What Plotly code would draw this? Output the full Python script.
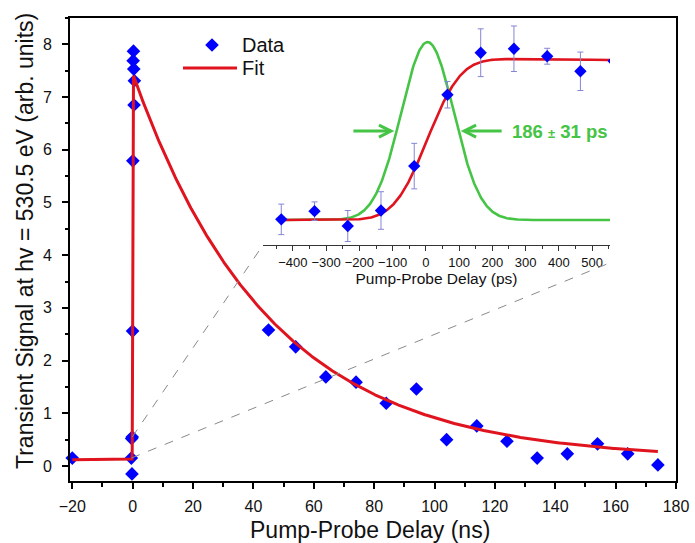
import math
import numpy as np
import plotly.graph_objects as go

# ---------------------------------------------------------------- data
# Long-delay scan, delays in ns
delay_ns = [-20, 45, 54, 64, 74, 84, 94, 104, 114, 124, 134, 144, 154, 164, 174]
signal_ns = [0.15, 2.58, 2.26, 1.69, 1.59, 1.19, 1.46, 0.50, 0.76, 0.47, 0.15, 0.23, 0.42, 0.23, 0.02]

# Fine scan around time zero, delays in ps
delay_ps = [-435, -335, -235, -135, -35, 65, 165, 265, 365, 465, 565]
signal_ps = [0.15, 0.52, -0.15, 0.55, 2.56, 5.79, 7.69, 7.87, 7.53, 6.85, 7.31]
error_ps = [0.69, 0.42, 0.70, 0.85, 1.03, 0.60, 1.08, 1.03, 0.36, 0.87, 0.50]

# Fit parameters: step (convolved with a Gaussian IRF) times exponential decay
fit_offset = 0.12
fit_amplitude = 7.33
fit_tau_ns = 45.0
fit_t0_ps = 5.0
irf_fwhm_ps = 186
irf_fwhm_err_ps = 31
irf_height = 8.05

# ---------------------------------------------------------------- model
sigma_ps = irf_fwhm_ps / (2 * math.sqrt(2 * math.log(2)))


def fit_model(t_ps):
    step = 0.5 * (1 + math.erf((t_ps - fit_t0_ps) / (math.sqrt(2) * sigma_ps)))
    decay = math.exp(-max(t_ps - fit_t0_ps, 0.0) / (fit_tau_ns * 1000.0))
    return fit_offset + fit_amplitude * step * decay


def irf_model(t_ps):
    return fit_offset + irf_height * math.exp(
        -4 * math.log(2) * (t_ps - fit_t0_ps) ** 2 / irf_fwhm_ps ** 2)


# ---------------------------------------------------------------- layout geometry
W, H = 695, 543
ML, MR, MT, MB = 70, 19, 18, 62
XR = [-20.76, 180]
YR = [-0.285, 8.5]
INSET_XR = [-490, 554]
INSET_YR = [-1.01, 9.17]


def paper_x(px):
    return (px - ML) / (W - ML - MR)


def paper_y(py):
    return (H - MB - py) / (H - MT - MB)


def main_x(frac):
    return XR[0] + frac * (XR[1] - XR[0])


def main_y(frac):
    return YR[0] + frac * (YR[1] - YR[0])


inset_xdom = [paper_x(263), paper_x(610)]
inset_ydom = [paper_y(245), paper_y(20)]

FONT = "Arial, Liberation Sans, sans-serif"
BLUE = "#0000ff"
RED = "#e0141e"
GREEN = "#45c445"
MARKER_SIZE = 10.5

fig = go.Figure()

# ---------------------------------------------------------------- main panel
all_delay_ns = delay_ns + [t / 1000.0 for t in delay_ps]
all_signal = signal_ns + signal_ps
fig.add_trace(go.Scatter(
    x=all_delay_ns, y=all_signal, mode="markers", cliponaxis=False,
    marker=dict(symbol="diamond", size=MARKER_SIZE, color=BLUE, line=dict(width=0)),
    showlegend=False))

t_main_ns = np.concatenate([np.linspace(-20, -0.5, 40),
                            np.linspace(-0.5, 0.5, 401),
                            np.linspace(0.5, 174, 500)])
fig.add_trace(go.Scatter(
    x=t_main_ns, y=[fit_model(t * 1000.0) for t in t_main_ns],
    mode="lines", line=dict(color=RED, width=3), showlegend=False,
    hoverinfo="skip"))

# ---------------------------------------------------------------- inset panel
t_inset = np.linspace(delay_ps[0], INSET_XR[1], 600)
fig.add_trace(go.Scatter(
    x=t_inset, y=[irf_model(t) for t in t_inset], xaxis="x2", yaxis="y2",
    mode="lines", line=dict(color=GREEN, width=2.6), showlegend=False))
fig.add_trace(go.Scatter(
    x=t_inset, y=[fit_model(t) for t in t_inset], xaxis="x2", yaxis="y2",
    mode="lines", line=dict(color=RED, width=2.6), showlegend=False))
fig.add_trace(go.Scatter(
    x=delay_ps, y=signal_ps, xaxis="x2", yaxis="y2", mode="markers",
    marker=dict(symbol="diamond", size=9.5, color=BLUE, line=dict(width=0)),
    error_y=dict(type="data", array=error_ps, color="#8585d6", thickness=1, width=3),
    showlegend=False))

# ---------------------------------------------------------------- shapes
shapes = []
# dashed connectors from the time-zero points to the inset axis
shapes.append(dict(type="line", xref="x", yref="y",
                   x0=delay_ps[3] / 1000.0, y0=signal_ps[3],
                   x1=main_x(inset_xdom[0]), y1=main_y(inset_ydom[0]),
                   line=dict(color="#8a8a8a", width=1, dash="dash")))
shapes.append(dict(type="line", xref="x", yref="y",
                   x0=delay_ps[0] / 1000.0, y0=signal_ps[0],
                   x1=main_x(paper_x(612)), y1=main_y(paper_y(262)),
                   line=dict(color="#8a8a8a", width=1, dash="dash")))

# FWHM arrows on the IRF
half_level = fit_offset + irf_height / 2
tip_gap = irf_fwhm_ps / 2 + 17
left_tip = fit_t0_ps - tip_gap
right_tip = fit_t0_ps + tip_gap
arrow_len = 113
for tip, direction in ((left_tip, 1), (right_tip, -1)):
    shapes.append(dict(type="line", xref="x2", yref="y2",
                       x0=tip - direction * arrow_len, x1=tip - direction * 2,
                       y0=half_level, y1=half_level,
                       line=dict(color=GREEN, width=3)))
    shapes.append(dict(type="path", xref="x2", yref="y2",
                       xsizemode="pixel", ysizemode="pixel",
                       xanchor=tip, yanchor=half_level,
                       path=f"M{-direction * 12},6 L0,0 L{-direction * 12},-6",
                       line=dict(color=GREEN, width=3)))

# legend glyphs
rd = MARKER_SIZE * 0.65
shapes.append(dict(type="path", xref="paper", yref="paper",
                   xsizemode="pixel", ysizemode="pixel",
                   xanchor=paper_x(212), yanchor=paper_y(45),
                   path=f"M0,{rd} L{rd},0 L0,{-rd} L{-rd},0 Z",
                   fillcolor=BLUE, line=dict(width=0)))
shapes.append(dict(type="line", xref="paper", yref="paper",
                   x0=paper_x(183), x1=paper_x(237), y0=paper_y(68), y1=paper_y(68),
                   line=dict(color=RED, width=3)))

annotations = [
    dict(text="Data", xref="paper", yref="paper", x=paper_x(240), y=paper_y(45),
         xanchor="left", yanchor="middle", showarrow=False,
         font=dict(family=FONT, size=20, color="#111")),
    dict(text="Fit", xref="paper", yref="paper", x=paper_x(240), y=paper_y(68),
         xanchor="left", yanchor="middle", showarrow=False,
         font=dict(family=FONT, size=20, color="#111")),
    dict(text=f"<b>{irf_fwhm_ps} <span style='font-size:13px'>±</span> {irf_fwhm_err_ps} ps</b>",
         xref="x2", yref="y2", x=right_tip + arrow_len, y=half_level,
         xanchor="left", yanchor="middle", xshift=8, showarrow=False,
         font=dict(family=FONT, size=18.5, color=GREEN)),
    # main axis titles
    dict(text="Pump-Probe Delay (ns)", xref="paper", yref="paper",
         x=paper_x(370), y=paper_y(530), xanchor="center", yanchor="middle",
         showarrow=False, font=dict(family=FONT, size=23, color="#111")),
    dict(text="Transient Signal at hv = 530.5 eV (arb. units)", xref="paper", yref="paper",
         x=paper_x(25), y=paper_y(241), xanchor="center", yanchor="middle",
         textangle=-90, showarrow=False, font=dict(family=FONT, size=23, color="#111")),
]

axis_common = dict(showgrid=False, zeroline=False, ticks="outside",
                   tickcolor="#000", linecolor="#000", automargin=False)

fig.update_layout(
    width=W, height=H,
    margin=dict(l=ML, r=MR, t=MT, b=MB, autoexpand=False),
    paper_bgcolor="white", plot_bgcolor="white",
    font=dict(family=FONT, color="#111"),
    showlegend=False,
    xaxis=dict(**axis_common, range=XR, domain=[0, 1], showline=True, linewidth=2,
               mirror=True, ticklen=6, tickwidth=1.5, dtick=20, tick0=0,
               ticklabelstandoff=4,
               minor=dict(dtick=10, ticks="outside", ticklen=3.5, tickwidth=1.5,
                          tickcolor="#000"),
               tickfont=dict(size=16, color="#111")),
    yaxis=dict(**axis_common, range=YR, domain=[0, 1], showline=True, linewidth=2,
               mirror=True, ticklen=6, tickwidth=1.5, dtick=1, tick0=0,
               ticklabelstandoff=7,
               minor=dict(dtick=0.5, ticks="outside", ticklen=3.5, tickwidth=1.5,
                          tickcolor="#000"),
               tickfont=dict(size=16, color="#111")),
    xaxis2=dict(showgrid=False, zeroline=False, anchor="y2", domain=inset_xdom,
                automargin=False,
                range=INSET_XR, showline=True, linecolor="#333", linewidth=1.3,
                ticks="outside", ticklen=5, tickwidth=1.2, tickcolor="#333",
                dtick=100, tick0=0,
                minor=dict(dtick=50, ticks="outside", ticklen=3, tickwidth=1.2,
                           tickcolor="#333"),
                tickfont=dict(size=13, color="#111"),
                title=dict(text="Pump-Probe Delay (ps)", font=dict(size=15.5, color="#111"),
                           standoff=2)),
    yaxis2=dict(anchor="x2", domain=inset_ydom, range=INSET_YR, visible=False),
    shapes=shapes,
    annotations=annotations,
)

fig.write_html("out.html")
